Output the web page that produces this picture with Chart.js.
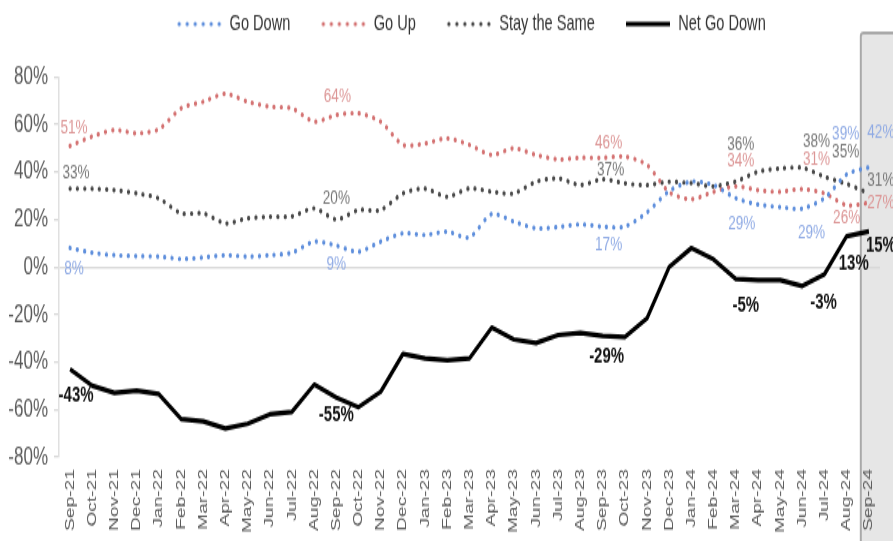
<!DOCTYPE html>
<html><head><meta charset="utf-8">
<script src="https://cdn.jsdelivr.net/npm/chart.js@4.4.1/dist/chart.umd.min.js"></script>
<style>html,body{margin:0;padding:0;background:#fff;overflow:hidden}
#wrap{width:893px;height:541px;position:relative;overflow:hidden}
#c{position:absolute;left:0;top:0;transform-origin:0 0}</style>
</head><body><div id="wrap"><canvas id="c" width="893" height="361"></canvas></div>
<script>
// ---- data ----
const months = ['Sep-21','Oct-21','Nov-21','Dec-21','Jan-22','Feb-22','Mar-22','Apr-22','May-22','Jun-22','Jul-22','Aug-22','Sep-22','Oct-22','Nov-22','Dec-22','Jan-23','Feb-23','Mar-23','Apr-23','May-23','Jun-23','Jul-23','Aug-23','Sep-23','Oct-23','Nov-23','Dec-23','Jan-24','Feb-24','Mar-24','Apr-24','May-24','Jun-24','Jul-24','Aug-24','Sep-24'];
const goDown = [8,6,5,4.6,4.4,3.4,4,5,4.4,5,6,10.7,9,6.4,10.7,14.2,13.5,14.9,12.5,22.3,19.1,16.3,16.8,18,17,17,23,32,36,34.5,29,26.3,25.2,24.6,29,39,42];
const goUp = [51,55,57.7,56.3,58,66.8,69.6,73,69.6,67.5,66.8,61.2,64,64.7,61.2,51.4,52,54.2,51.4,47.2,50,47.2,45.3,46,46,46.5,43,31.5,28.5,31.7,34,32.4,31.7,32.8,31,26,27];
const staySame = [33,33,32.4,31,28.9,22.6,22.6,18.4,20.5,21.2,21.3,24.7,20,24,24,31,33,29.6,33.1,31.7,31,35.9,37.3,34.5,37,35.2,34.5,35.9,35.3,34,36,40.1,41.5,41.8,38,35,31];
const netGoDown = [-43,-50,-53,-52,-53.5,-64,-65,-68,-66,-62,-61,-49.5,-55,-59,-52.5,-36.6,-38.5,-39.2,-38.5,-25.5,-30.5,-32,-28.6,-27.7,-29,-29.5,-21.6,0,8,3.2,-5,-5.5,-5.5,-8,-3,13,15];
const labelIdx = [0,12,24,30,34,35,36];
const yTicks = [-80,-60,-40,-20,0,20,40,60,80];
const seriesNames = ['Go Down','Go Up','Stay the Same','Net Go Down'];

// ---- style ----
const S = 541/361; // vertical stretch of the whole picture
document.getElementById('c').style.transform = 'scale(1,' + S + ')';
const FONT = "'Liberation Sans',Arial,sans-serif";
const colors = {down:'#5f8fdc', up:'#d47272', same:'#4a4a4a', net:'#000000'};
const labelColors = ['#8faae4','#dc9696','#767676','#111111'];
const labelOffsets = [
  {0:[4,20],12:[0,19],24:[6,18],30:[6,25],34:[-13,34],35:[-1,-40],36:[12,-35]},
  {0:[4,-18],12:[1,-18],24:[6,-15],30:[5,-25],34:[-8,-34],35:[0,12],36:[12,0]},
  {0:[6,-16],12:[0,-21],24:[8,-9],30:[5,-38],34:[-8,-36],35:[-1,-32],36:[12,-13]},
  {0:[6,26],12:[0,18],24:[4,21],30:[10,26],34:[-1,28],35:[7,27],36:[12,14]}
];
const LEG_PAD = 30;

function dotsImg(color){const c=document.createElement('canvas');c.width=46;c.height=6;const g=c.getContext('2d');g.fillStyle=color;for(let i=0;i<6;i++){g.beginPath();g.arc(3+i*8,3,1.6,0,Math.PI*2);g.fill();}return c;}
function lineImg(color){const c=document.createElement('canvas');c.width=44;c.height=6;const g=c.getContext('2d');g.fillStyle=color;g.fillRect(0,1.5,44,3);return c;}
const legendImgs=[dotsImg(colors.down),dotsImg(colors.up),dotsImg(colors.same),lineImg(colors.net)];

const legendTweak = {
  id:'legendTweak',
  beforeLayout(chart){const lg=chart.legend;if(lg&&!lg._patched){const f=lg.fit;lg.fit=function(){f.call(this);this.height=77/S;};lg._patched=true;}},
  afterLayout(chart){const lg=chart.legend;if(lg){lg.top=13/S-LEG_PAD;lg.left+=31;lg.right+=31;}}
};
const highlightBox = {
  id:'highlightBox',
  beforeDraw(chart){
    const x=chart.scales.x, ctx=chart.ctx;
    const left=(x.getPixelForValue(35)+x.getPixelForValue(36))/2+3;
    const top=33/S;
    ctx.save();
    ctx.fillStyle='#e6e6e6';
    ctx.fillRect(left,top,chart.width-left+5,chart.height-top+5);
    ctx.strokeStyle='#a9a9a9';ctx.lineWidth=2;
    ctx.beginPath();ctx.moveTo(left,chart.height+5);ctx.lineTo(left,top+2);ctx.quadraticCurveTo(left,top,left+3,top);ctx.lineTo(chart.width+5,top);ctx.stroke();
    ctx.restore();
  }
};
const dataLabels = {
  id:'dataLabels',
  afterDatasetsDraw(chart){
    const ctx=chart.ctx;ctx.save();ctx.textAlign='center';ctx.textBaseline='middle';
    chart.data.datasets.forEach((ds,di)=>{
      const meta=chart.getDatasetMeta(di);
      ctx.font=(di===3?'bold 15px ':'13.6px ')+FONT;
      ctx.fillStyle=labelColors[di];
      labelIdx.forEach(i=>{
        const p=meta.data[i];const off=labelOffsets[di][i]||[0,0];
        ctx.fillText(Math.round(ds.data[i])+'%',p.x+off[0],p.y+off[1]/S);
      });
    });
    ctx.restore();
  }
};

const dotted = (label,data,color)=>({label,data,borderColor:color,backgroundColor:color,borderWidth:3.2,borderDash:[0.1,7.2],borderCapStyle:'round',pointRadius:0,pointHoverRadius:0,tension:0.25,fill:false});

new Chart(document.getElementById('c'),{
  type:'line',
  data:{labels:months,datasets:[
    dotted(seriesNames[0],goDown,colors.down),
    dotted(seriesNames[1],goUp,colors.up),
    dotted(seriesNames[2],staySame,colors.same),
    {label:seriesNames[3],data:netGoDown,borderColor:colors.net,backgroundColor:colors.net,borderWidth:3.2,pointRadius:0,pointHoverRadius:0,tension:0,borderJoinStyle:'round',fill:false}
  ]},
  options:{
    responsive:false,maintainAspectRatio:false,animation:false,
    layout:{padding:{left:0,right:13,top:0,bottom:0}},
    plugins:{
      tooltip:{enabled:false},
      legend:{display:true,position:'top',align:'center',
        labels:{usePointStyle:true,pointStyleWidth:46,boxHeight:6,padding:LEG_PAD,color:'#333',font:{family:FONT,size:14.6},
          generateLabels(chart){return Chart.defaults.plugins.legend.labels.generateLabels(chart).map((it,i)=>Object.assign(it,{pointStyle:legendImgs[i]}));}}
      }
    },
    scales:{
      x:{type:'category',offset:true,
        grid:{display:false,drawTicks:false},border:{display:false},
        ticks:{autoSkip:false,maxRotation:90,minRotation:90,padding:8,color:'#5a5a5a',font:{family:FONT,size:12.8}},
        afterFit(s){s.height=361-457/S;}
      },
      y:{min:-80,max:80,afterBuildTicks(s){s.ticks=yTicks.map(v=>({value:v}));},
        grid:{color:(c)=>c.tick&&c.tick.value===0?'#d9d9d9':'rgba(0,0,0,0)',tickColor:'#d9d9d9',tickLength:5,lineWidth:1.3},
        border:{display:true,color:'#e0e0e0',width:1.5},
        ticks:{padding:6,color:'#5a5a5a',font:{family:FONT,size:17},callback:v=>v+'%'},
        afterFit(s){s.width=59;}
      }
    }
  },
  plugins:[legendTweak,highlightBox,dataLabels]
});
</script></body></html>
